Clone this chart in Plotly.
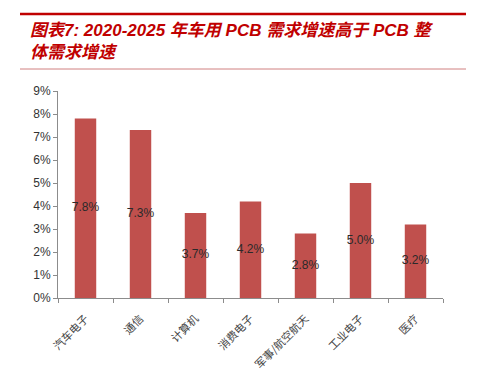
import plotly.graph_objects as go

categories = ["汽车电子", "通信", "计算机", "消费电子", "军事/航空航天", "工业电子", "医疗"]
values = [0.078, 0.073, 0.037, 0.042, 0.028, 0.050, 0.032]
labels = ["7.8%", "7.3%", "3.7%", "4.2%", "2.8%", "5.0%", "3.2%"]

fig = go.Figure()
fig.add_trace(go.Bar(
    x=categories, y=values,
    marker=dict(color="#c0504d", line=dict(width=0)),
    width=0.39, hoverinfo="skip",
))
fig.add_trace(go.Scatter(
    x=categories, y=[v / 2 for v in values], text=labels, mode="text",
    textposition="middle center",
    textfont=dict(family="Liberation Sans, Arial", size=12, color="#2a2a2a"),
    hoverinfo="skip",
))

font_cjk = "Noto Sans CJK SC, sans-serif"
font_title = "Liberation Sans, Noto Sans CJK SC, sans-serif"
L, R, T, B = 58, 41, 91, 79
W, H = 484, 377
pw, ph = W - L - R, H - T - B

def px(x):
    return (x - L) / pw

def py(y):
    return (H - B - y) / ph

fig.update_layout(
    width=W, height=H,
    margin=dict(l=L, r=R, t=T, b=B, autoexpand=False),
    plot_bgcolor="white", paper_bgcolor="white",
    showlegend=False,
    xaxis=dict(
        automargin=False,
        showline=True, linecolor="#8c8c8c", linewidth=1,
        ticks="outside", tickson="boundaries", ticklen=4, tickcolor="#8c8c8c",
        tickangle=-45, ticklabelstandoff=9,
        tickfont=dict(family=font_cjk, size=11, color="#444444"),
        showgrid=False,
    ),
    yaxis=dict(
        automargin=False,
        range=[0, 0.09], dtick=0.01, tickformat=".0%",
        showline=True, linecolor="#8c8c8c", linewidth=1,
        ticks="outside", ticklen=4, tickcolor="#8c8c8c",
        tickfont=dict(family="Liberation Sans, Arial", size=12, color="#333333"),
        showgrid=False, zeroline=False,
    ),
    shapes=[
        dict(type="line", xref="paper", yref="paper", x0=px(20), x1=px(466),
             y0=py(14), y1=py(14), line=dict(color="#c00000", width=2.5)),
        dict(type="line", xref="paper", yref="paper", x0=px(20), x1=px(466),
             y0=py(69), y1=py(69), line=dict(color="#d08080", width=1)),
    ],
    annotations=[
        dict(xref="paper", yref="paper", x=px(28), y=py(30), xanchor="left", yanchor="middle",
             showarrow=False,
             text="<b><i>图表7: 2020-2025 年车用 PCB 需求增速高于 PCB 整</i></b>",
             font=dict(family=font_title, size=17, color="#c00000")),
        dict(xref="paper", yref="paper", x=px(28), y=py(52), xanchor="left", yanchor="middle",
             showarrow=False,
             text="<b><i>体需求增速</i></b>",
             font=dict(family=font_title, size=17, color="#c00000")),
    ],
)

fig.write_html("out.html", config={"displayModeBar": False},
               post_script="document.body.style.margin='0';")
